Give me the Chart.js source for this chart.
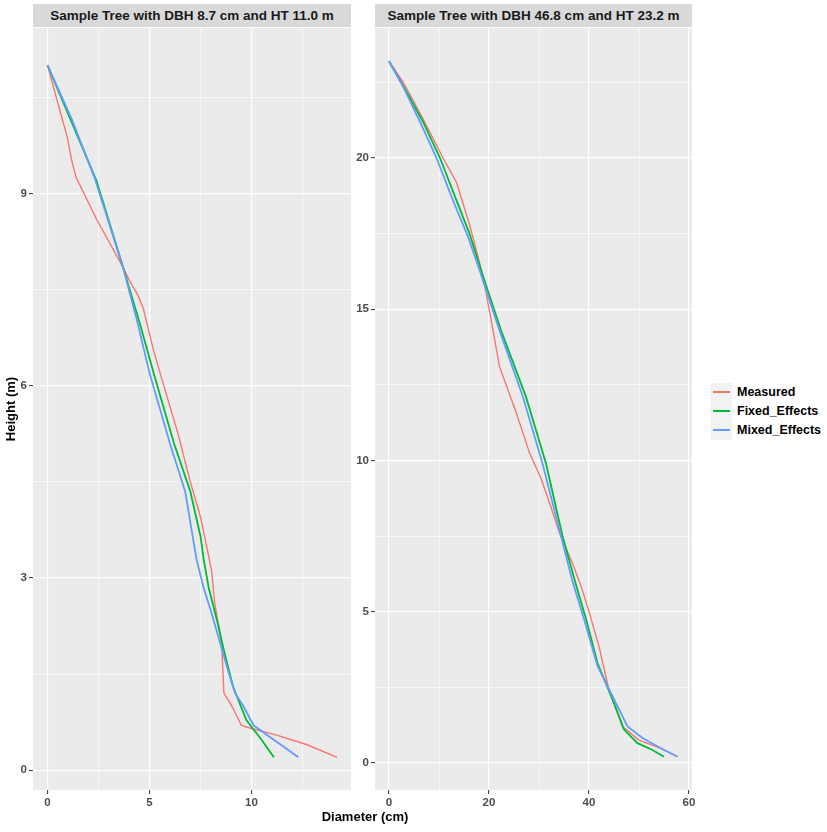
<!DOCTYPE html>
<html>
<head>
  <title>Stem Taper Profiles</title>
  <script src="https://cdn.jsdelivr.net/npm/chart.js"></script>
  <style>
    body { margin: 0; background: #fff; font-family: "Liberation Sans", Arial, sans-serif; }
    #wrap { position: relative; width: 827px; height: 832px; }
    canvas { position: absolute; }
    .strip { position: absolute; top: 4px; height: 23px; background: #D9D9D9; color: #1A1A1A;
             font-weight: bold; font-size: 13.5px; line-height: 23px; text-align: center; white-space: nowrap; }
    #xtitle { position: absolute; left: 290px; width: 150px; top: 809px; text-align: center;
              font-weight: bold; font-size: 13px; color: #000; }
    #legend { position: absolute; left: 711px; top: 383px; font-size: 12.5px; font-weight: bold; }
    .key { position: relative; height: 19px; }
    .key .box { position: absolute; left: 0; top: 0; width: 21px; height: 19px; background: #F2F2F2; }
    .key .ln { position: absolute; left: 2px; top: 8px; width: 17px; height: 2px; }
    .key .lab { position: absolute; left: 26px; top: 2px; white-space: nowrap; color: #000; }
  </style>
</head>
<body>
<div id="wrap">
  <div class="strip" style="left:33px;width:318px" id="stripL"></div>
  <div class="strip" style="left:375px;width:317px" id="stripR"></div>
  <canvas id="left" width="351" height="792" style="left:0;top:28px"></canvas>
  <canvas id="right" width="362" height="792" style="left:345px;top:28px"></canvas>
  <div id="xtitle">Diameter (cm)</div>
  <div id="legend"></div>
</div>

<script>
  const seriesNames = ['Measured', 'Fixed_Effects', 'Mixed_Effects'];
  const seriesColors = ['#F8766D', '#00BA38', '#619CFF'];

  // Left tree: DBH 8.7 cm, HT 11.0 m
  const leftTitle = 'Sample Tree with DBH 8.7 cm and HT 11.0 m';
  const leftMeasuredDia = [0, 0.6, 0.95, 1.2, 1.4, 2.4, 3.7, 4.0, 4.45, 4.7, 5.2, 5.7, 6.4, 7.0, 7.5, 7.8, 8.05, 8.2, 8.45, 8.55, 8.65, 8.95, 9.2, 9.5, 10.0, 11.2, 12.7, 14.2];
  const leftMeasuredHt  = [11.0, 10.3, 9.9, 9.5, 9.25, 8.6, 7.85, 7.65, 7.4, 7.2, 6.55, 6.0, 5.25, 4.5, 3.95, 3.5, 3.1, 2.6, 2.15, 1.9, 1.2, 1.05, 0.9, 0.7, 0.65, 0.55, 0.4, 0.2];
  const leftFixedDia = [0, 1.2, 2.4, 3.7, 4.5, 5.2, 6.2, 7.0, 7.5, 7.65, 7.9, 8.3, 8.7, 9.1, 9.75, 10.5, 11.1];
  const leftFixedHt  = [11.0, 10.1, 9.2, 7.85, 7.0, 6.2, 5.1, 4.35, 3.65, 3.3, 2.85, 2.35, 1.8, 1.3, 0.78, 0.47, 0.2];
  const leftMixedDia = [0, 1.2, 2.3, 3.7, 4.4, 5.0, 6.0, 6.75, 7.3, 7.65, 8.0, 8.45, 8.9, 9.2, 9.6, 10.1, 11.2, 12.3];
  const leftMixedHt  = [11.0, 10.15, 9.25, 7.85, 7.0, 6.2, 5.1, 4.35, 3.3, 2.85, 2.5, 2.0, 1.5, 1.2, 1.0, 0.7, 0.45, 0.2];

  // Right tree: DBH 46.8 cm, HT 23.2 m
  const rightTitle = 'Sample Tree with DBH 46.8 cm and HT 23.2 m';
  const rightMeasuredDia = [0, 2.85, 6.8, 10.8, 13.5, 16.1, 18.8, 19.8, 20.8, 22.1, 25.4, 28.1, 30.4, 32.1, 34.1, 36.7, 38.5, 40.0, 42.0, 44.0, 46.7, 50.0, 54.0, 57.7];
  const rightMeasuredHt  = [23.2, 22.5, 21.3, 20.0, 19.2, 17.8, 16.1, 15.2, 14.3, 13.1, 11.6, 10.25, 9.4, 8.6, 7.6, 6.6, 5.8, 5.0, 3.85, 2.4, 1.2, 0.75, 0.5, 0.2];
  const rightFixedDia = [0, 2.8, 6.8, 10.2, 13.5, 16.1, 18.8, 22.4, 27.4, 31.4, 34.7, 37.2, 39.5, 41.7, 44.7, 47.0, 49.7, 52.6, 55.0];
  const rightFixedHt  = [23.2, 22.4, 21.2, 20.0, 18.6, 17.5, 16.1, 14.3, 12.1, 9.9, 7.5, 6.0, 4.7, 3.3, 2.1, 1.1, 0.65, 0.43, 0.2];
  const rightMixedDia = [0, 2.7, 6.2, 9.5, 12.8, 15.8, 18.1, 22.1, 26.8, 30.7, 34.4, 36.7, 39.1, 41.7, 44.7, 47.7, 50.7, 54.3, 57.7];
  const rightMixedHt  = [23.2, 22.4, 21.2, 20.0, 18.6, 17.4, 16.3, 14.3, 12.1, 9.9, 7.5, 6.0, 4.7, 3.2, 2.2, 1.2, 0.82, 0.49, 0.2];

  // tick positions
  const leftXMajor = [0, 5, 10], leftXMinor = [2.5, 7.5, 12.5];
  const leftYMajor = [0, 3, 6, 9], leftYMinor = [1.5, 4.5, 7.5, 10.5];
  const rightXMajor = [0, 20, 40, 60], rightXMinor = [10, 30, 50];
  const rightYMajor = [0, 5, 10, 15, 20], rightYMinor = [2.5, 7.5, 12.5, 17.5, 22.5];

  document.getElementById('stripL').textContent = leftTitle;
  document.getElementById('stripR').textContent = rightTitle;

  // legend
  const legend = document.getElementById('legend');
  seriesNames.forEach((name, i) => {
    const row = document.createElement('div');
    row.className = 'key';
    row.innerHTML = '<div class="box"></div><div class="ln" style="background:' + seriesColors[i] +
      '"></div><div class="lab">' + name + '</div>';
    legend.appendChild(row);
  });

  function pts(xs, ys) {
    return xs.map((x, i) => ({ x: x, y: ys[i] }));
  }

  const panelBg = {
    id: 'panelBg',
    beforeDraw(chart) {
      const a = chart.chartArea, c = chart.ctx;
      c.save();
      c.fillStyle = '#EBEBEB';
      c.fillRect(a.left, a.top, a.right - a.left, a.bottom - a.top);
      c.restore();
    }
  };

  function axis(dir, min, max, major, minor, size, title) {
    const all = major.concat(minor).sort((a, b) => a - b);
    const isMajor = v => major.includes(v);
    const cfg = {
      type: 'linear',
      position: dir === 'x' ? 'bottom' : 'left',
      min: min,
      max: max,
      border: { display: false },
      afterBuildTicks: s => { s.ticks = all.map(v => ({ value: v })); },
      afterFit: s => {
        if (dir === 'x') { s.height = size; s.paddingLeft = 0; s.paddingRight = 0; }
        else { s.width = size; s.paddingTop = 0; s.paddingBottom = 0; }
      },
      grid: {
        color: '#FFFFFF',
        lineWidth: c => isMajor(c.tick.value) ? 1.2 : 0.6,
        tickColor: c => isMajor(c.tick.value) ? '#333333' : 'rgba(0,0,0,0)',
        tickLength: 4,
        tickWidth: 1
      },
      ticks: {
        autoSkip: false,
        maxRotation: 0,
        padding: 2,
        color: '#4D4D4D',
        font: { family: '"Liberation Sans", Arial, sans-serif', size: 11.5, weight: 'bold' },
        callback: v => isMajor(v) ? String(v) : ''
      }
    };
    if (title) {
      cfg.title = { display: true, text: title, color: '#000',
        font: { family: '"Liberation Sans", Arial, sans-serif', size: 13, weight: 'bold' },
        padding: { top: 4, bottom: 0 } };
    }
    return cfg;
  }

  function makeChart(id, data, xr, yr, xMaj, xMin, yMaj, yMin, yWidth, yTitle, padRight) {
    const widths = [1.4, 1.8, 1.8];
    return new Chart(document.getElementById(id), {
      type: 'scatter',
      data: {
        datasets: data.map((d, i) => ({
          label: seriesNames[i],
          data: d,
          showLine: true,
          borderColor: seriesColors[i],
          backgroundColor: seriesColors[i],
          borderWidth: widths[i],
          pointRadius: 0,
          pointHoverRadius: 0,
          tension: 0,
          order: 3 - i
        }))
      },
      options: {
        responsive: false,
        animation: false,
        layout: { padding: { left: 0, top: 0, bottom: 0, right: padRight } },
        plugins: { legend: { display: false }, tooltip: { enabled: false } },
        scales: {
          x: axis('x', xr[0], xr[1], xMaj, xMin, 30),
          y: axis('y', yr[0], yr[1], yMaj, yMin, yWidth, yTitle)
        }
      },
      plugins: [panelBg]
    });
  }

  makeChart('left', [
    pts(leftMeasuredDia, leftMeasuredHt),
    pts(leftFixedDia, leftFixedHt),
    pts(leftMixedDia, leftMixedHt)
  ], [-0.71, 14.88], [-0.31, 11.58], leftXMajor, leftXMinor, leftYMajor, leftYMinor, 33, 'Height (m)', 0);

  makeChart('right', [
    pts(rightMeasuredDia, rightMeasuredHt),
    pts(rightFixedDia, rightFixedHt),
    pts(rightMixedDia, rightMixedHt)
  ], [-2.8, 60.6], [-0.9, 24.3], rightXMajor, rightXMinor, rightYMajor, rightYMinor, 30, null, 15);
</script>
</body>
</html>
